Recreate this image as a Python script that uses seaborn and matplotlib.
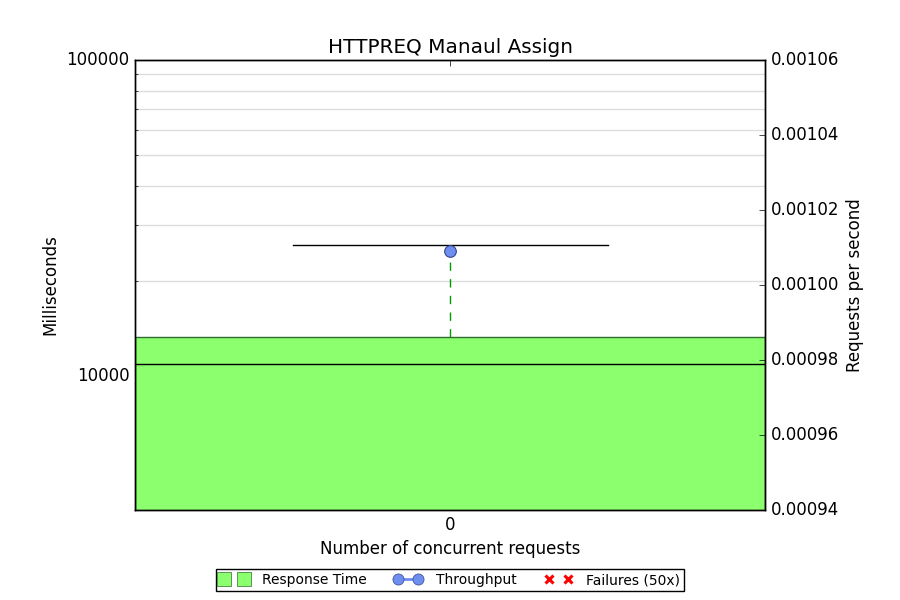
import matplotlib
matplotlib.use("Agg")
import matplotlib.pyplot as plt
from matplotlib.lines import Line2D
from matplotlib.ticker import FormatStrFormatter, NullFormatter
import pandas as pd
import seaborn as sns

# values
concurrency = [0, 0, 0, 0, 0]
response_ms = [2000, 3000, 10900, 13280, 26100]
throughput_x = [0]
throughput_rps = [0.0010092]

plt.style.use("classic")
plt.rcParams["figure.facecolor"] = "white"
plt.rcParams["savefig.facecolor"] = "white"
plt.rcParams["font.family"] = ["DejaVu Sans"]

df = pd.DataFrame({"Concurrency": concurrency, "Response": response_ms})

fig, ax = plt.subplots(figsize=(9, 6), dpi=100)
fig.subplots_adjust(left=0.15, right=0.85, top=0.9, bottom=0.15)

ax.set_yscale("log")
sns.boxplot(data=df, x="Concurrency", y="Response", ax=ax, width=1,
            color="#8cff6e", saturation=1, linecolor="black", linewidth=1,
            boxprops=dict(edgecolor="#2f6b2f"),
            whiskerprops=dict(color="#009900", linestyle="--"),
            capprops=dict(color="black"),
            medianprops=dict(color="black"),
            showfliers=False)
ax.set_ylim(3779, 100000)
ax.yaxis.set_major_formatter(FormatStrFormatter("%d"))
ax.yaxis.set_minor_formatter(NullFormatter())
ax.yaxis.grid(True, which="both", color="#dddddd", linestyle="-", linewidth=1)
ax.set_axisbelow(True)
ax.set_ylabel("Milliseconds", fontsize=12)
ax.set_xlabel("Number of concurrent requests", fontsize=12)
ax.set_title("HTTPREQ Manaul Assign", fontsize=14.4)
ax.tick_params(labelsize=12)

ax2 = ax.twinx()
sns.scatterplot(x=throughput_x, y=throughput_rps, ax=ax2, s=70,
                color="#6f8ff0", edgecolor="#334488", linewidth=0.8, zorder=5)
ax2.set_ylim(0.00094, 0.00106)
ax2.set_yticks([0.00094, 0.00096, 0.00098, 0.00100, 0.00102, 0.00104, 0.00106])
ax2.yaxis.set_major_formatter(FormatStrFormatter("%.5f"))
ax2.set_ylabel("Requests per second", fontsize=12)
ax2.tick_params(labelsize=12)
ax.set_xlim(-0.5, 0.5)

handles = [
    Line2D([], [], marker="s", linestyle="none", markersize=10,
           markerfacecolor="#8cff6e", markeredgecolor="#2f6b2f"),
    Line2D([], [], marker="o", linestyle="-", linewidth=2, color="#6f8ff0",
           markersize=8, markerfacecolor="#6f8ff0", markeredgecolor="#334488"),
    Line2D([], [], marker="x", linestyle="none", markersize=6,
           markeredgewidth=2.2, color="red"),
]
fig.legend(handles, ["Response Time", "Throughput", "Failures (50x)"],
           loc="center", bbox_to_anchor=(0.5, 0.033), ncol=3, numpoints=2,
           fontsize=10, fancybox=False, borderpad=0.3, handletextpad=1.0,
           columnspacing=2.0)

fig.savefig("out.png", dpi=100)
